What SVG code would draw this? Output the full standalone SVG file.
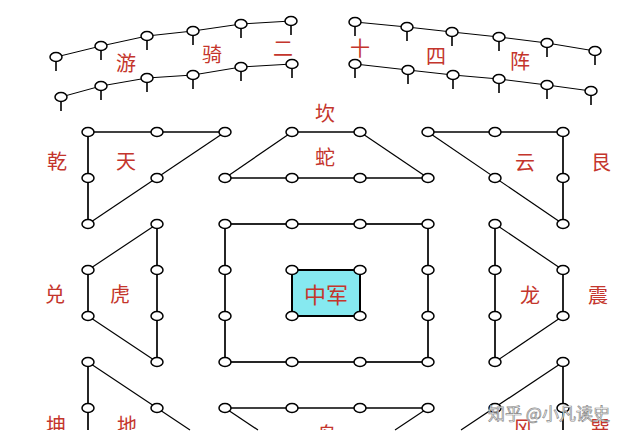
<svg xmlns="http://www.w3.org/2000/svg" width="640" height="440" viewBox="0 0 640 440">
<style>
.n{fill:#fff;stroke:#000;stroke-width:1.5}
.e{stroke:#000;stroke-width:1.7;fill:none}
.d{stroke:#000;stroke-width:1.2;fill:none}
.c{stroke:#000;stroke-width:1;fill:none}
.s{stroke:#000;stroke-width:1.6}
.t{font-family:"Noto Sans CJK SC","Noto Sans",sans-serif;font-size:20px;fill:#c4352c;text-anchor:middle;dominant-baseline:central}
.wm{font-family:"Noto Sans CJK SC","Noto Sans",sans-serif;font-size:17px;fill:#fff;stroke:#8a8a8a;stroke-width:0.7;text-anchor:start;dominant-baseline:central}
</style>
<defs>
<clipPath id="cut"><rect x="0" y="0" width="640" height="430"/></clipPath>
<g id="pin"><line class="s" x1="0" y1="4" x2="0" y2="14"/><ellipse class="n" cx="0" cy="0" rx="6" ry="4.5"/></g>
</defs>
<rect width="640" height="440" fill="#fff"/>

<g id="connectors">
<polyline class="c" points="56,57 101,46 147,36 193,31 241,24 291,21"/>
<polyline class="c" points="61,97 101,86 147,78 193,75 241,67 292,64"/>
<polyline class="c" points="355,22 407,27 452,32 499,37 547,43 595,51"/>
<polyline class="c" points="355,64 408,70 453,75 499,79 547,85 591,91"/>
<line class="e" x1="88" y1="132" x2="225" y2="132"/>
<line class="e" x1="88" y1="132" x2="88" y2="224"/>
<line class="d" x1="225" y1="132" x2="88" y2="224"/>
<line class="e" x1="292" y1="132" x2="360" y2="132"/>
<line class="e" x1="225" y1="178" x2="428" y2="178"/>
<line class="d" x1="292" y1="132" x2="225" y2="178"/>
<line class="d" x1="360" y1="132" x2="428" y2="178"/>
<line class="e" x1="428" y1="132" x2="563" y2="132"/>
<line class="e" x1="563" y1="132" x2="563" y2="224"/>
<line class="d" x1="428" y1="132" x2="563" y2="224"/>
<line class="e" x1="157" y1="224" x2="157" y2="362"/>
<line class="d" x1="157" y1="224" x2="88" y2="270"/>
<line class="e" x1="88" y1="270" x2="88" y2="316"/>
<line class="d" x1="88" y1="316" x2="157" y2="362"/>
<line class="e" x1="495" y1="224" x2="495" y2="362"/>
<line class="d" x1="495" y1="224" x2="563" y2="270"/>
<line class="e" x1="563" y1="270" x2="563" y2="316"/>
<line class="d" x1="563" y1="316" x2="495" y2="362"/>
<rect class="e" x="225" y="224" width="203" height="138"/>
<rect x="292" y="270" width="68" height="46" fill="#86e9f0" stroke="#000" stroke-width="2"/>
<line class="e" x1="88" y1="362" x2="88" y2="430"/>
<line class="d" x1="88" y1="362" x2="190" y2="430"/>
<line class="e" x1="225" y1="408" x2="428" y2="408"/>
<line class="d" x1="225" y1="408" x2="258" y2="430"/>
<line class="d" x1="428" y1="408" x2="395" y2="430"/>
<line class="e" x1="563" y1="362" x2="563" y2="430"/>
<line class="d" x1="563" y1="362" x2="461" y2="430"/>
</g>

<g id="youqi-left">
<use href="#pin" x="56" y="57"/><use href="#pin" x="101" y="46"/><use href="#pin" x="147" y="36"/><use href="#pin" x="193" y="31"/><use href="#pin" x="241" y="24"/><use href="#pin" x="291" y="21"/>
<use href="#pin" x="61" y="97"/><use href="#pin" x="101" y="86"/><use href="#pin" x="147" y="78"/><use href="#pin" x="193" y="75"/><use href="#pin" x="241" y="67"/><use href="#pin" x="292" y="64"/>
<text class="t" x="126" y="62">游</text><text class="t" x="212" y="53">骑</text><text class="t" x="283" y="47">二</text>
</g>
<g id="youqi-right">
<use href="#pin" x="355" y="22"/><use href="#pin" x="407" y="27"/><use href="#pin" x="452" y="32"/><use href="#pin" x="499" y="37"/><use href="#pin" x="547" y="43"/><use href="#pin" x="595" y="51"/>
<use href="#pin" x="355" y="64"/><use href="#pin" x="408" y="70"/><use href="#pin" x="453" y="75"/><use href="#pin" x="499" y="79"/><use href="#pin" x="547" y="85"/><use href="#pin" x="591" y="91"/>
<text class="t" x="360" y="47">十</text><text class="t" x="436" y="55">四</text><text class="t" x="520" y="60">阵</text>
</g>

<g id="qian">
<ellipse class="n" cx="88" cy="132" rx="6" ry="4.5"/><ellipse class="n" cx="157" cy="132" rx="6" ry="4.5"/><ellipse class="n" cx="225" cy="132" rx="6" ry="4.5"/>
<ellipse class="n" cx="88" cy="178" rx="6" ry="4.5"/><ellipse class="n" cx="157" cy="178" rx="6" ry="4.5"/><ellipse class="n" cx="88" cy="224" rx="6" ry="4.5"/>
<text class="t" x="57" y="160">乾</text><text class="t" x="126" y="160">天</text>
</g>
<g id="kan">
<ellipse class="n" cx="292" cy="132" rx="6" ry="4.5"/><ellipse class="n" cx="360" cy="132" rx="6" ry="4.5"/>
<ellipse class="n" cx="225" cy="178" rx="6" ry="4.5"/><ellipse class="n" cx="292" cy="178" rx="6" ry="4.5"/><ellipse class="n" cx="360" cy="178" rx="6" ry="4.5"/><ellipse class="n" cx="428" cy="178" rx="6" ry="4.5"/>
<text class="t" x="325" y="112">坎</text><text class="t" x="325" y="156">蛇</text>
</g>
<g id="gen">
<ellipse class="n" cx="428" cy="132" rx="6" ry="4.5"/><ellipse class="n" cx="495" cy="132" rx="6" ry="4.5"/><ellipse class="n" cx="563" cy="132" rx="6" ry="4.5"/>
<ellipse class="n" cx="495" cy="178" rx="6" ry="4.5"/><ellipse class="n" cx="563" cy="178" rx="6" ry="4.5"/><ellipse class="n" cx="563" cy="224" rx="6" ry="4.5"/>
<text class="t" x="525" y="161">云</text><text class="t" x="601" y="161">艮</text>
</g>
<g id="dui">
<ellipse class="n" cx="157" cy="224" rx="6" ry="4.5"/><ellipse class="n" cx="157" cy="270" rx="6" ry="4.5"/><ellipse class="n" cx="157" cy="316" rx="6" ry="4.5"/><ellipse class="n" cx="157" cy="362" rx="6" ry="4.5"/>
<ellipse class="n" cx="88" cy="270" rx="6" ry="4.5"/><ellipse class="n" cx="88" cy="316" rx="6" ry="4.5"/>
<text class="t" x="55" y="293">兑</text><text class="t" x="120" y="293">虎</text>
</g>
<g id="zhen">
<ellipse class="n" cx="495" cy="224" rx="6" ry="4.5"/><ellipse class="n" cx="495" cy="270" rx="6" ry="4.5"/><ellipse class="n" cx="495" cy="316" rx="6" ry="4.5"/><ellipse class="n" cx="495" cy="362" rx="6" ry="4.5"/>
<ellipse class="n" cx="563" cy="270" rx="6" ry="4.5"/><ellipse class="n" cx="563" cy="316" rx="6" ry="4.5"/>
<text class="t" x="530" y="294">龙</text><text class="t" x="598" y="294">震</text>
</g>
<g id="zhongjun">
<ellipse class="n" cx="225" cy="224" rx="6" ry="4.5"/><ellipse class="n" cx="292" cy="224" rx="6" ry="4.5"/><ellipse class="n" cx="360" cy="224" rx="6" ry="4.5"/><ellipse class="n" cx="428" cy="224" rx="6" ry="4.5"/>
<ellipse class="n" cx="225" cy="270" rx="6" ry="4.5"/><ellipse class="n" cx="428" cy="270" rx="6" ry="4.5"/><ellipse class="n" cx="225" cy="316" rx="6" ry="4.5"/><ellipse class="n" cx="428" cy="316" rx="6" ry="4.5"/>
<ellipse class="n" cx="225" cy="362" rx="6" ry="4.5"/><ellipse class="n" cx="292" cy="362" rx="6" ry="4.5"/><ellipse class="n" cx="360" cy="362" rx="6" ry="4.5"/><ellipse class="n" cx="428" cy="362" rx="6" ry="4.5"/>
<ellipse class="n" cx="292" cy="270" rx="6" ry="4.5"/><ellipse class="n" cx="360" cy="270" rx="6" ry="4.5"/><ellipse class="n" cx="292" cy="316" rx="6" ry="4.5"/><ellipse class="n" cx="360" cy="316" rx="6" ry="4.5"/>
<text class="t" x="326" y="293" style="font-size:22px">中军</text>
</g>
<g id="kun">
<ellipse class="n" cx="88" cy="362" rx="6" ry="4.5"/><ellipse class="n" cx="88" cy="408" rx="6" ry="4.5"/><ellipse class="n" cx="157" cy="408" rx="6" ry="4.5"/>
<g clip-path="url(#cut)"><text class="t" x="56" y="424">坤</text><text class="t" x="127" y="424">地</text></g>
</g>
<g id="li">
<ellipse class="n" cx="225" cy="408" rx="6" ry="4.5"/><ellipse class="n" cx="292" cy="408" rx="6" ry="4.5"/><ellipse class="n" cx="360" cy="408" rx="6" ry="4.5"/><ellipse class="n" cx="428" cy="408" rx="6" ry="4.5"/>
<g clip-path="url(#cut)"><text class="t" x="327" y="433">鸟</text></g>
</g>
<g id="xun">
<ellipse class="n" cx="563" cy="362" rx="6" ry="4.5"/><ellipse class="n" cx="563" cy="408" rx="6" ry="4.5"/><ellipse class="n" cx="495" cy="408" rx="6" ry="4.5"/>
<g clip-path="url(#cut)"><text class="t" x="523" y="427">风</text><text class="t" x="600" y="427">巽</text></g>
</g>
<text class="wm" x="488" y="412">知乎 @小凡读史</text>
</svg>
